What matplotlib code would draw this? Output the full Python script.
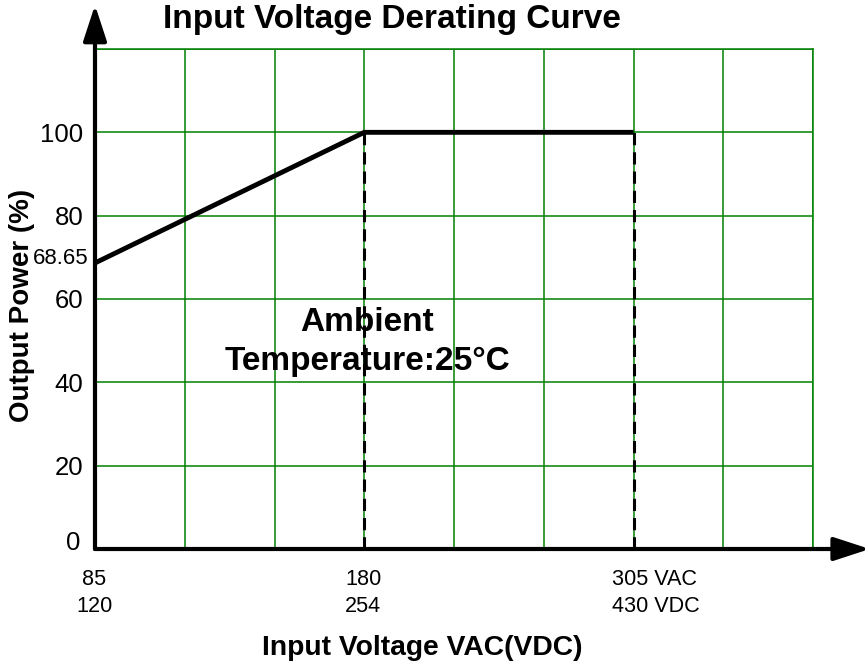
import numpy as np
import matplotlib
matplotlib.use("Agg")
import matplotlib.pyplot as plt
from matplotlib.transforms import ScaledTranslation

# ---- data ----
vac_ticks = [85, 180, 305]
vdc_ticks = [120, 254, 430]
voltage = [85, 180, 305]
power = [68.65, 100, 100]
y_ticks = [0, 20, 40, 60, 80, 100]
min_label = "68.65"

title = "Input Voltage Derating Curve"
xlabel = "Input Voltage VAC(VDC)"
ylabel = "Output Power (%)"
note = "Ambient\nTemperature:25°C"

plt.rcParams['font.family'] = ['Liberation Sans', 'DejaVu Sans']

# piecewise-linear axis: each labelled voltage sits on a grid line (3 cells apart)
v0, v1, v2 = vac_ticks
def fwd(v):
    v = np.asarray(v, dtype=float)
    return np.where(v <= v1, (v - v0) / (v1 - v0) * 3, 3 + (v - v1) / (v2 - v1) * 3)
def inv(p):
    p = np.asarray(p, dtype=float)
    return np.where(p <= 3, v0 + p / 3 * (v1 - v0), v1 + (p - 3) / 3 * (v2 - v1))

W, H = 865, 662
fig = plt.figure(figsize=(W / 100, H / 100), dpi=100)
ax = fig.add_axes([95 / W, 113 / H, 718 / W, 500 / H])
ax.set_xscale('function', functions=(fwd, inv))
xmax = float(inv(8))
ax.set_xlim(v0, xmax)
ax.set_ylim(0, 120)

green = '#008000'
# grid
for p in range(0, 9):
    ax.axvline(float(inv(p)), color=green, lw=1.1, zorder=1)
for yv in range(0, 121, 20):
    ax.axhline(yv, color=green, lw=1.1, zorder=1)

for s in ['top', 'right']:
    ax.spines[s].set_color(green)
    ax.spines[s].set_linewidth(1.1)
for s in ['left', 'bottom']:
    ax.spines[s].set_visible(False)

# dashed drop lines
for v, pw in zip(voltage[1:], power[1:]):
    ax.plot([v, v], [0, pw], color='black', lw=2.2, ls=(0, (4, 2.3)), zorder=3)

# curve
ax.plot(voltage, power, color='black', lw=3.5, zorder=4, solid_capstyle='butt')

# axes with arrows
arrow_style = '-|>,head_length=0.55,head_width=0.18'
ax.annotate('', xy=(0, 1.088), xycoords='axes fraction', xytext=(0, 0),
            textcoords='axes fraction',
            arrowprops=dict(arrowstyle=arrow_style, lw=3, color='black',
                            mutation_scale=40, shrinkA=0, shrinkB=0), zorder=5,
            annotation_clip=False)
ax.annotate('', xy=(1.079, 0), xycoords='axes fraction', xytext=(0, 0),
            textcoords='axes fraction',
            arrowprops=dict(arrowstyle=arrow_style, lw=3, color='black',
                            mutation_scale=40, shrinkA=0, shrinkB=0), zorder=5,
            annotation_clip=False)

# y ticks
ax.set_yticks(y_ticks)
ax.set_yticklabels([str(t) for t in y_ticks], fontsize=18.5)
ax.tick_params(axis='y', length=0, pad=8.5)
ax.set_xticks([])
for lab in ax.get_yticklabels():
    if lab.get_text() == '0':
        lab.set_transform(lab.get_transform() + ScaledTranslation(-3 / 100, 8 / 100, fig.dpi_scale_trans))

# min power label
ax.annotate(min_label, xy=(0, power[0]), xycoords=('axes fraction', 'data'),
            xytext=(-6, 4.5), textcoords='offset pixels', ha='right', va='center',
            fontsize=16, annotation_clip=False)

# x tick labels (two lines: VAC / VDC)
for i, (a, d) in enumerate(zip(vac_ticks, vdc_ticks)):
    if i == len(vac_ticks) - 1:
        txt = f"{a} VAC\n{d} VDC"
        ha, dx = 'left', -21
    else:
        txt = f"{a}\n{d}"
        ha, dx = 'center', -1
    ax.annotate(txt, xy=(a, 0), xycoords=('data', 'axes fraction'),
                xytext=(dx, -20), textcoords='offset pixels', ha=ha, va='top',
                fontsize=15.6, linespacing=1.35, multialignment='left' if ha == 'left' else 'center',
                annotation_clip=False)

# titles
fig.text(391.5 / W, 1 - 28 / H, title, ha='center', va='baseline', fontsize=24, fontweight='bold')
fig.text(422 / W, 1 - 655 / H, xlabel, ha='center', va='baseline', fontsize=20.3, fontweight='bold')
fig.text(22.5 / W, 1 - 305 / H, ylabel, ha='center', va='center', rotation=90, fontsize=20, fontweight='bold')

# annotation
ax.text((367 - 95) / 718, (549 - 342) / 500, note, transform=ax.transAxes, ha='center', va='center',
        fontsize=24, fontweight='bold', linespacing=1.3, zorder=6)

fig.savefig('out.png', dpi=100)
